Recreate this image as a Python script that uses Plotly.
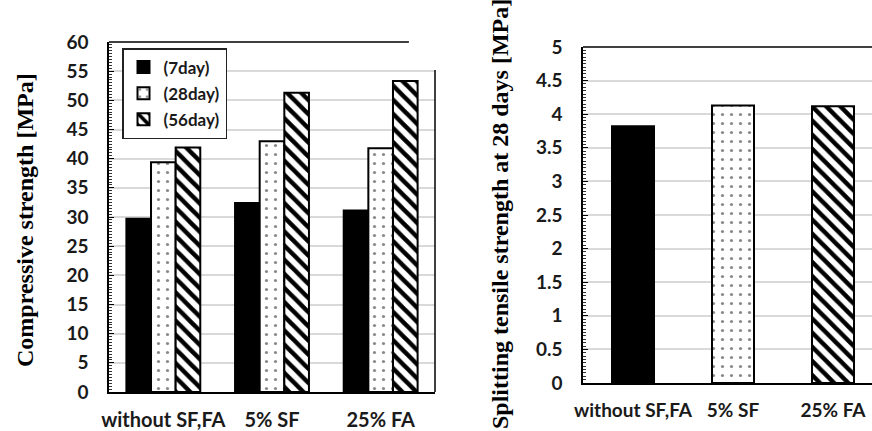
import plotly.graph_objects as go

categories = ["without SF,FA", "5% SF", "25% FA"]
series_names = ["(7day)", "(28day)", "(56day)"]
comp_7day = [29.7, 32.4, 31.1]
comp_28day = [39.4, 43.0, 41.8]
comp_56day = [41.9, 51.3, 53.3]
tensile_28day = [3.82, 4.13, 4.12]
left_ticks = list(range(0, 61, 5))
right_ticks = [0, 0.5, 1, 1.5, 2, 2.5, 3, 3.5, 4, 4.5, 5]
right_ticktext = ["0", "0.5", "1", "1.5", "2", "2.5", "3", "3.5", "4", "4.5", "5"]

W, H = 872, 431
TICKFONT = dict(family="Lato", size=19, color="#1a1a1a", weight="bold")
GRID = "#d9d9d9"

fig = go.Figure()

styles = [
    dict(color="black", pattern=dict(shape="")),
    dict(color="white", pattern=dict(shape=".", fgcolor="#8a8a8a", bgcolor="white", size=9, solidity=0.1)),
    dict(color="white", pattern=dict(shape="\\", fgcolor="black", bgcolor="white", size=10, solidity=0.45)),
]
for name, vals, st in zip(series_names, [comp_7day, comp_28day, comp_56day], styles):
    fig.add_trace(go.Bar(
        x=categories, y=vals, name=name, xaxis="x", yaxis="y",
        marker=dict(color=st["color"], pattern=st["pattern"], line=dict(color="black", width=2)),
        legendgroup=name,
    ))

for i, st in enumerate(styles):
    fig.add_trace(go.Bar(
        x=[categories[i]], y=[tensile_28day[i]], xaxis="x2", yaxis="y2", showlegend=False,
        width=0.42, offsetgroup="tensile",
        marker=dict(color=st["color"], pattern=st["pattern"], line=dict(color="black", width=2)),
    ))


def px_x(p):
    return p / W


def px_y(p):
    return (H - p) / H


fig.update_layout(
    width=W, height=H, template="none",
    margin=dict(l=0, r=0, t=0, b=0),
    paper_bgcolor="white", plot_bgcolor="white",
    barmode="group", bargap=0.32, bargroupgap=0.0,
    xaxis=dict(domain=[px_x(109), px_x(435)], anchor="y", showline=True, linecolor="black", linewidth=1.5,
               ticks="", tickfont=dict(family="Lato", size=20, color="#1a1a1a", weight="bold"),
               ticklabelstandoff=9, automargin=False, showgrid=False),
    yaxis=dict(domain=[px_y(392), px_y(42)], anchor="x", range=[0, 60], tickvals=left_ticks,
               showline=True, linecolor="black", linewidth=1.5, ticks="inside", ticklen=5, tickcolor="black",
               minor=dict(ticks="inside", dtick=0.5, ticklen=3, tickcolor="#333", showgrid=False),
               showgrid=True, gridcolor=GRID, gridwidth=1.5, tickfont=TICKFONT, ticklabelstandoff=15,
               automargin=False, zeroline=False),
    xaxis2=dict(domain=[px_x(583), 1.0], anchor="y2", range=[-0.5, 2.39], showline=True, linecolor="black",
                linewidth=1.5, ticks="", tickfont=dict(family="Lato", size=19, color="#1a1a1a", weight="bold"),
                ticklabelstandoff=9, automargin=False, showgrid=False),
    yaxis2=dict(domain=[px_y(383), px_y(47)], anchor="x2", range=[0, 5], tickvals=right_ticks,
                ticktext=right_ticktext, showline=True, linecolor="black", linewidth=1.5,
                ticks="inside", ticklen=5, tickcolor="black",
                minor=dict(ticks="inside", dtick=0.05, ticklen=3, tickcolor="#333", showgrid=False),
                showgrid=True, gridcolor=GRID, gridwidth=1.5, tickfont=TICKFONT, ticklabelstandoff=15,
                automargin=False, zeroline=False),
    legend=dict(x=px_x(122), y=px_y(48), xanchor="left", yanchor="top", bgcolor="white",
                bordercolor="#222", borderwidth=1.5, tracegroupgap=1, itemwidth=30,
                font=dict(family="Lato", size=17, color="#1a1a1a", weight="bold"), traceorder="grouped"),
    showlegend=True,
    shapes=[
        dict(type="line", xref="x domain", yref="y domain", x0=0, x1=0.92, y0=1, y1=1,
             line=dict(color="black", width=1.5)),
        dict(type="line", xref="x domain", yref="y domain", x0=1, x1=1, y0=0, y1=0.92,
             line=dict(color="black", width=1.5)),
        dict(type="line", xref="x2 domain", yref="y2 domain", x0=0, x1=1, y0=1, y1=1,
             line=dict(color="black", width=1.5)),
    ],
    annotations=[
        dict(text="Compressive strength [MPa]", xref="paper", yref="paper", x=px_x(25), y=px_y(220),
             textangle=-90, showarrow=False, xanchor="center", yanchor="middle",
             font=dict(family="Liberation Serif", size=24, color="black", weight="bold")),
        dict(text="Splitting tensile strength at 28 days [MPa]", xref="paper", yref="paper", x=px_x(500),
             y=px_y(214), textangle=-90, showarrow=False, xanchor="center", yanchor="middle",
             font=dict(family="Liberation Serif", size=24, color="black", weight="bold")),
    ],
)

fig.write_html("out.html", config={"displayModeBar": False},
               post_script="document.body.style.margin='0';")
